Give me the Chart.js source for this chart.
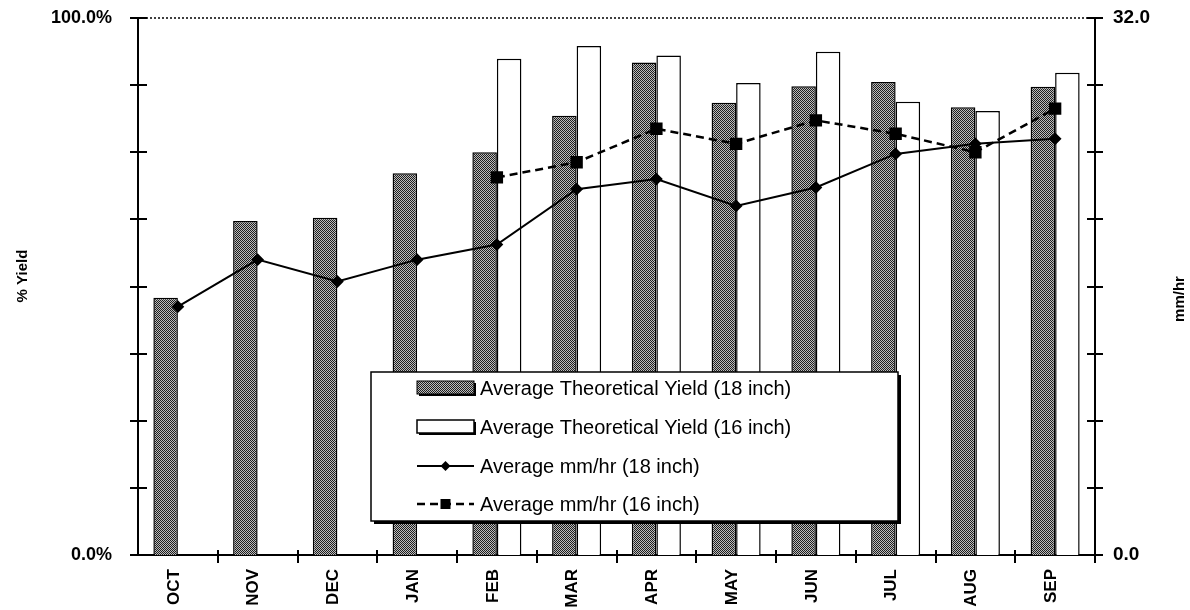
<!DOCTYPE html>
<html>
<head>
<meta charset="utf-8">
<title>Theoretical Yield and mm/hr</title>
<script src="https://cdn.jsdelivr.net/npm/chart.js@4.4.0/dist/chart.umd.min.js"></script>
<style>
  body { margin: 0; background: #fff; }
  canvas { display: block; }
</style>
</head>
<body>
<canvas id="yieldChart" width="1190" height="610"></canvas>
<script>
// Monthly data, October through September
const months = ["OCT", "NOV", "DEC", "JAN", "FEB", "MAR", "APR", "MAY", "JUN", "JUL", "AUG", "SEP"];

// % yield (left axis)
const yield18 = [47.9, 62.2, 62.8, 71.1, 75.0, 81.8, 91.7, 84.2, 87.3, 88.1, 83.4, 87.2];
const yield16 = [null, null, null, null, 92.4, 94.8, 93.0, 87.9, 93.7, 84.4, 82.7, 89.8];

// mm/hr (right axis)
const rate18 = [14.8, 17.6, 16.3, 17.6, 18.5, 21.8, 22.4, 20.8, 21.9, 23.9, 24.5, 24.8];
const rate16 = [null, null, null, null, 22.5, 23.4, 25.4, 24.5, 25.9, 25.1, 24.0, 26.6];

// only the end ticks carry labels
const yieldLabelValues = [0, 100];
const rateLabelValues = [0, 32];

const legendLabels = [
  "Average Theoretical Yield (18 inch)",
  "Average Theoretical Yield (16 inch)",
  "Average mm/hr (18 inch)",
  "Average mm/hr (16 inch)",
];

const FONT = "'Liberation Sans', Arial, Helvetica, sans-serif";

const canvas = document.getElementById("yieldChart");
const ctx = canvas.getContext("2d");

// stippled grey fill for the 18 inch bars
const dots = document.createElement("canvas");
dots.width = 2;
dots.height = 2;
const dctx = dots.getContext("2d");
dctx.fillStyle = "#bcbcbc";
dctx.fillRect(0, 0, 2, 2);
dctx.fillStyle = "#1e1e1e";
dctx.fillRect(0, 0, 1, 1);
dctx.fillRect(1, 1, 1, 1);
const stipple = ctx.createPattern(dots, "repeat");

// keep the plot box fixed: no extra room for half-height tick labels
function pinBox(scale) {
  scale.paddingTop = 0;
  scale.paddingBottom = 0;
  scale.paddingLeft = 0;
  scale.paddingRight = 0;
}

// axis cross-ticks, dotted top line, axis titles and the boxed legend
const decorations = {
  id: "decorations",
  afterDraw(chart) {
    const c = chart.ctx;
    const area = chart.chartArea;
    const yS = chart.scales.y;
    const y1S = chart.scales.y1;

    c.save();
    c.strokeStyle = "#000";

    // dotted top edge
    c.lineWidth = 1.5;
    c.setLineDash([2, 2]);
    c.beginPath();
    c.moveTo(area.left, area.top);
    c.lineTo(area.right, area.top);
    c.stroke();
    c.setLineDash([]);

    // cross ticks on both value axes
    c.lineWidth = 2;
    yS.ticks.forEach((t) => {
      const py = Math.round(yS.getPixelForValue(t.value));
      c.beginPath();
      c.moveTo(area.left - 8, py);
      c.lineTo(area.left + 9, py);
      c.stroke();
    });
    y1S.ticks.forEach((t) => {
      const py = Math.round(y1S.getPixelForValue(t.value));
      c.beginPath();
      c.moveTo(area.right - 8, py);
      c.lineTo(area.right + 8, py);
      c.stroke();
    });

    // category boundary ticks on the x axis
    const step = (area.right - area.left) / months.length;
    for (let i = 1; i <= months.length; i++) {
      const px = Math.round(area.left + i * step);
      c.beginPath();
      c.moveTo(px, area.bottom - 5);
      c.lineTo(px, area.bottom + 8);
      c.stroke();
    }

    // axis titles
    c.fillStyle = "#000";
    c.font = "bold 15px " + FONT;
    c.textAlign = "center";
    c.textBaseline = "middle";
    c.save();
    c.translate(23, 276);
    c.rotate(-Math.PI / 2);
    c.fillText("% Yield", 0, 0);
    c.restore();
    c.save();
    c.translate(1180, 299);
    c.rotate(-Math.PI / 2);
    c.fillText("mm/hr", 0, 0);
    c.restore();

    // legend box with drop shadow
    const bx = 371, by = 372, bw = 527, bh = 149;
    c.fillStyle = "#000";
    c.fillRect(bx + 3, by + 3, bw, bh);
    c.fillStyle = "#fff";
    c.fillRect(bx, by, bw, bh);
    c.lineWidth = 1.5;
    c.strokeRect(bx, by, bw, bh);

    const rows = [388, 427, 466, 504];
    const px0 = 417, px1 = 474;
    c.font = "20px " + FONT;
    c.textAlign = "left";
    c.textBaseline = "middle";

    // bar swatches
    c.fillStyle = "#000";
    c.fillRect(px0 + 2, rows[0] - 5, px1 - px0, 13);
    c.fillStyle = stipple;
    c.fillRect(px0, rows[0] - 7, px1 - px0, 13);
    c.lineWidth = 1;
    c.strokeRect(px0, rows[0] - 7, px1 - px0, 13);

    c.fillStyle = "#000";
    c.fillRect(px0 + 2, rows[1] - 5, px1 - px0, 13);
    c.fillStyle = "#fff";
    c.fillRect(px0, rows[1] - 7, px1 - px0, 13);
    c.lineWidth = 1.5;
    c.strokeRect(px0, rows[1] - 7, px1 - px0, 13);

    // line swatches
    const mx = (px0 + px1) / 2;
    c.lineWidth = 2;
    c.beginPath();
    c.moveTo(px0, rows[2]);
    c.lineTo(px1, rows[2]);
    c.stroke();
    c.fillStyle = "#000";
    c.beginPath();
    c.moveTo(mx, rows[2] - 5);
    c.lineTo(mx + 5, rows[2]);
    c.lineTo(mx, rows[2] + 5);
    c.lineTo(mx - 5, rows[2]);
    c.closePath();
    c.fill();

    c.lineWidth = 2.5;
    c.setLineDash([8, 5]);
    c.beginPath();
    c.moveTo(px0, rows[3]);
    c.lineTo(px1, rows[3]);
    c.stroke();
    c.setLineDash([]);
    c.fillRect(mx - 5, rows[3] - 5, 10, 10);

    c.fillStyle = "#000";
    legendLabels.forEach((label, i) => {
      c.fillText(label, 480, rows[i] + 1);
    });

    c.restore();
  },
};

const chart = new Chart(ctx, {
  data: {
    labels: months,
    datasets: [
      {
        type: "bar",
        label: legendLabels[0],
        data: yield18,
        yAxisID: "y",
        backgroundColor: stipple,
        borderColor: "#000",
        borderWidth: 1.5,
        categoryPercentage: 0.615,
        barPercentage: 1.0,
        order: 2,
      },
      {
        type: "bar",
        label: legendLabels[1],
        data: yield16,
        yAxisID: "y",
        backgroundColor: "#fff",
        borderColor: "#000",
        borderWidth: 1.5,
        categoryPercentage: 0.615,
        barPercentage: 1.0,
        order: 2,
      },
      {
        type: "line",
        label: legendLabels[2],
        data: rate18,
        yAxisID: "y1",
        borderColor: "#000",
        borderWidth: 2,
        tension: 0,
        pointStyle: "rectRot",
        pointRadius: 5,
        pointBackgroundColor: "#000",
        pointBorderColor: "#000",
        order: 1,
      },
      {
        type: "line",
        label: legendLabels[3],
        data: rate16,
        yAxisID: "y1",
        borderColor: "#000",
        borderWidth: 2.5,
        borderDash: [8, 5],
        tension: 0,
        pointStyle: "rect",
        pointRadius: 7,
        pointBackgroundColor: "#000",
        pointBorderColor: "#000",
        order: 0,
      },
    ],
  },
  options: {
    responsive: false,
    animation: false,
    layout: { padding: { top: 18, left: 0, right: 0, bottom: 0 } },
    plugins: {
      legend: { display: false },
      tooltip: { enabled: false },
    },
    scales: {
      x: {
        grid: { display: false },
        border: { display: true, color: "#000", width: 2 },
        ticks: {
          color: "#000",
          font: { family: FONT, size: 17, weight: "bold" },
          minRotation: 90,
          maxRotation: 90,
          padding: 6,
          labelOffset: -4,
          autoSkip: false,
        },
        afterFit(scale) {
          scale.height = 55;
          pinBox(scale);
        },
      },
      y: {
        position: "left",
        min: 0,
        max: 100,
        grid: { display: false },
        border: { display: true, color: "#000", width: 2 },
        ticks: {
          stepSize: 12.5,
          autoSkip: false,
          color: "#000",
          padding: 18,
          font: { family: FONT, size: 18, weight: "bold" },
          callback: (v) => (yieldLabelValues.includes(v) ? v.toFixed(1) + "%" : ""),
        },
        afterFit(scale) {
          scale.width = 138;
          pinBox(scale);
        },
      },
      y1: {
        position: "right",
        min: 0,
        max: 32,
        grid: { display: false },
        border: { display: true, color: "#000", width: 2 },
        ticks: {
          stepSize: 4,
          autoSkip: false,
          color: "#000",
          padding: 10,
          font: { family: FONT, size: 19, weight: "bold" },
          callback: (v) => (rateLabelValues.includes(v) ? v.toFixed(1) : ""),
        },
        afterFit(scale) {
          scale.width = 95;
          pinBox(scale);
        },
      },
    },
  },
  plugins: [decorations],
});
</script>
</body>
</html>
